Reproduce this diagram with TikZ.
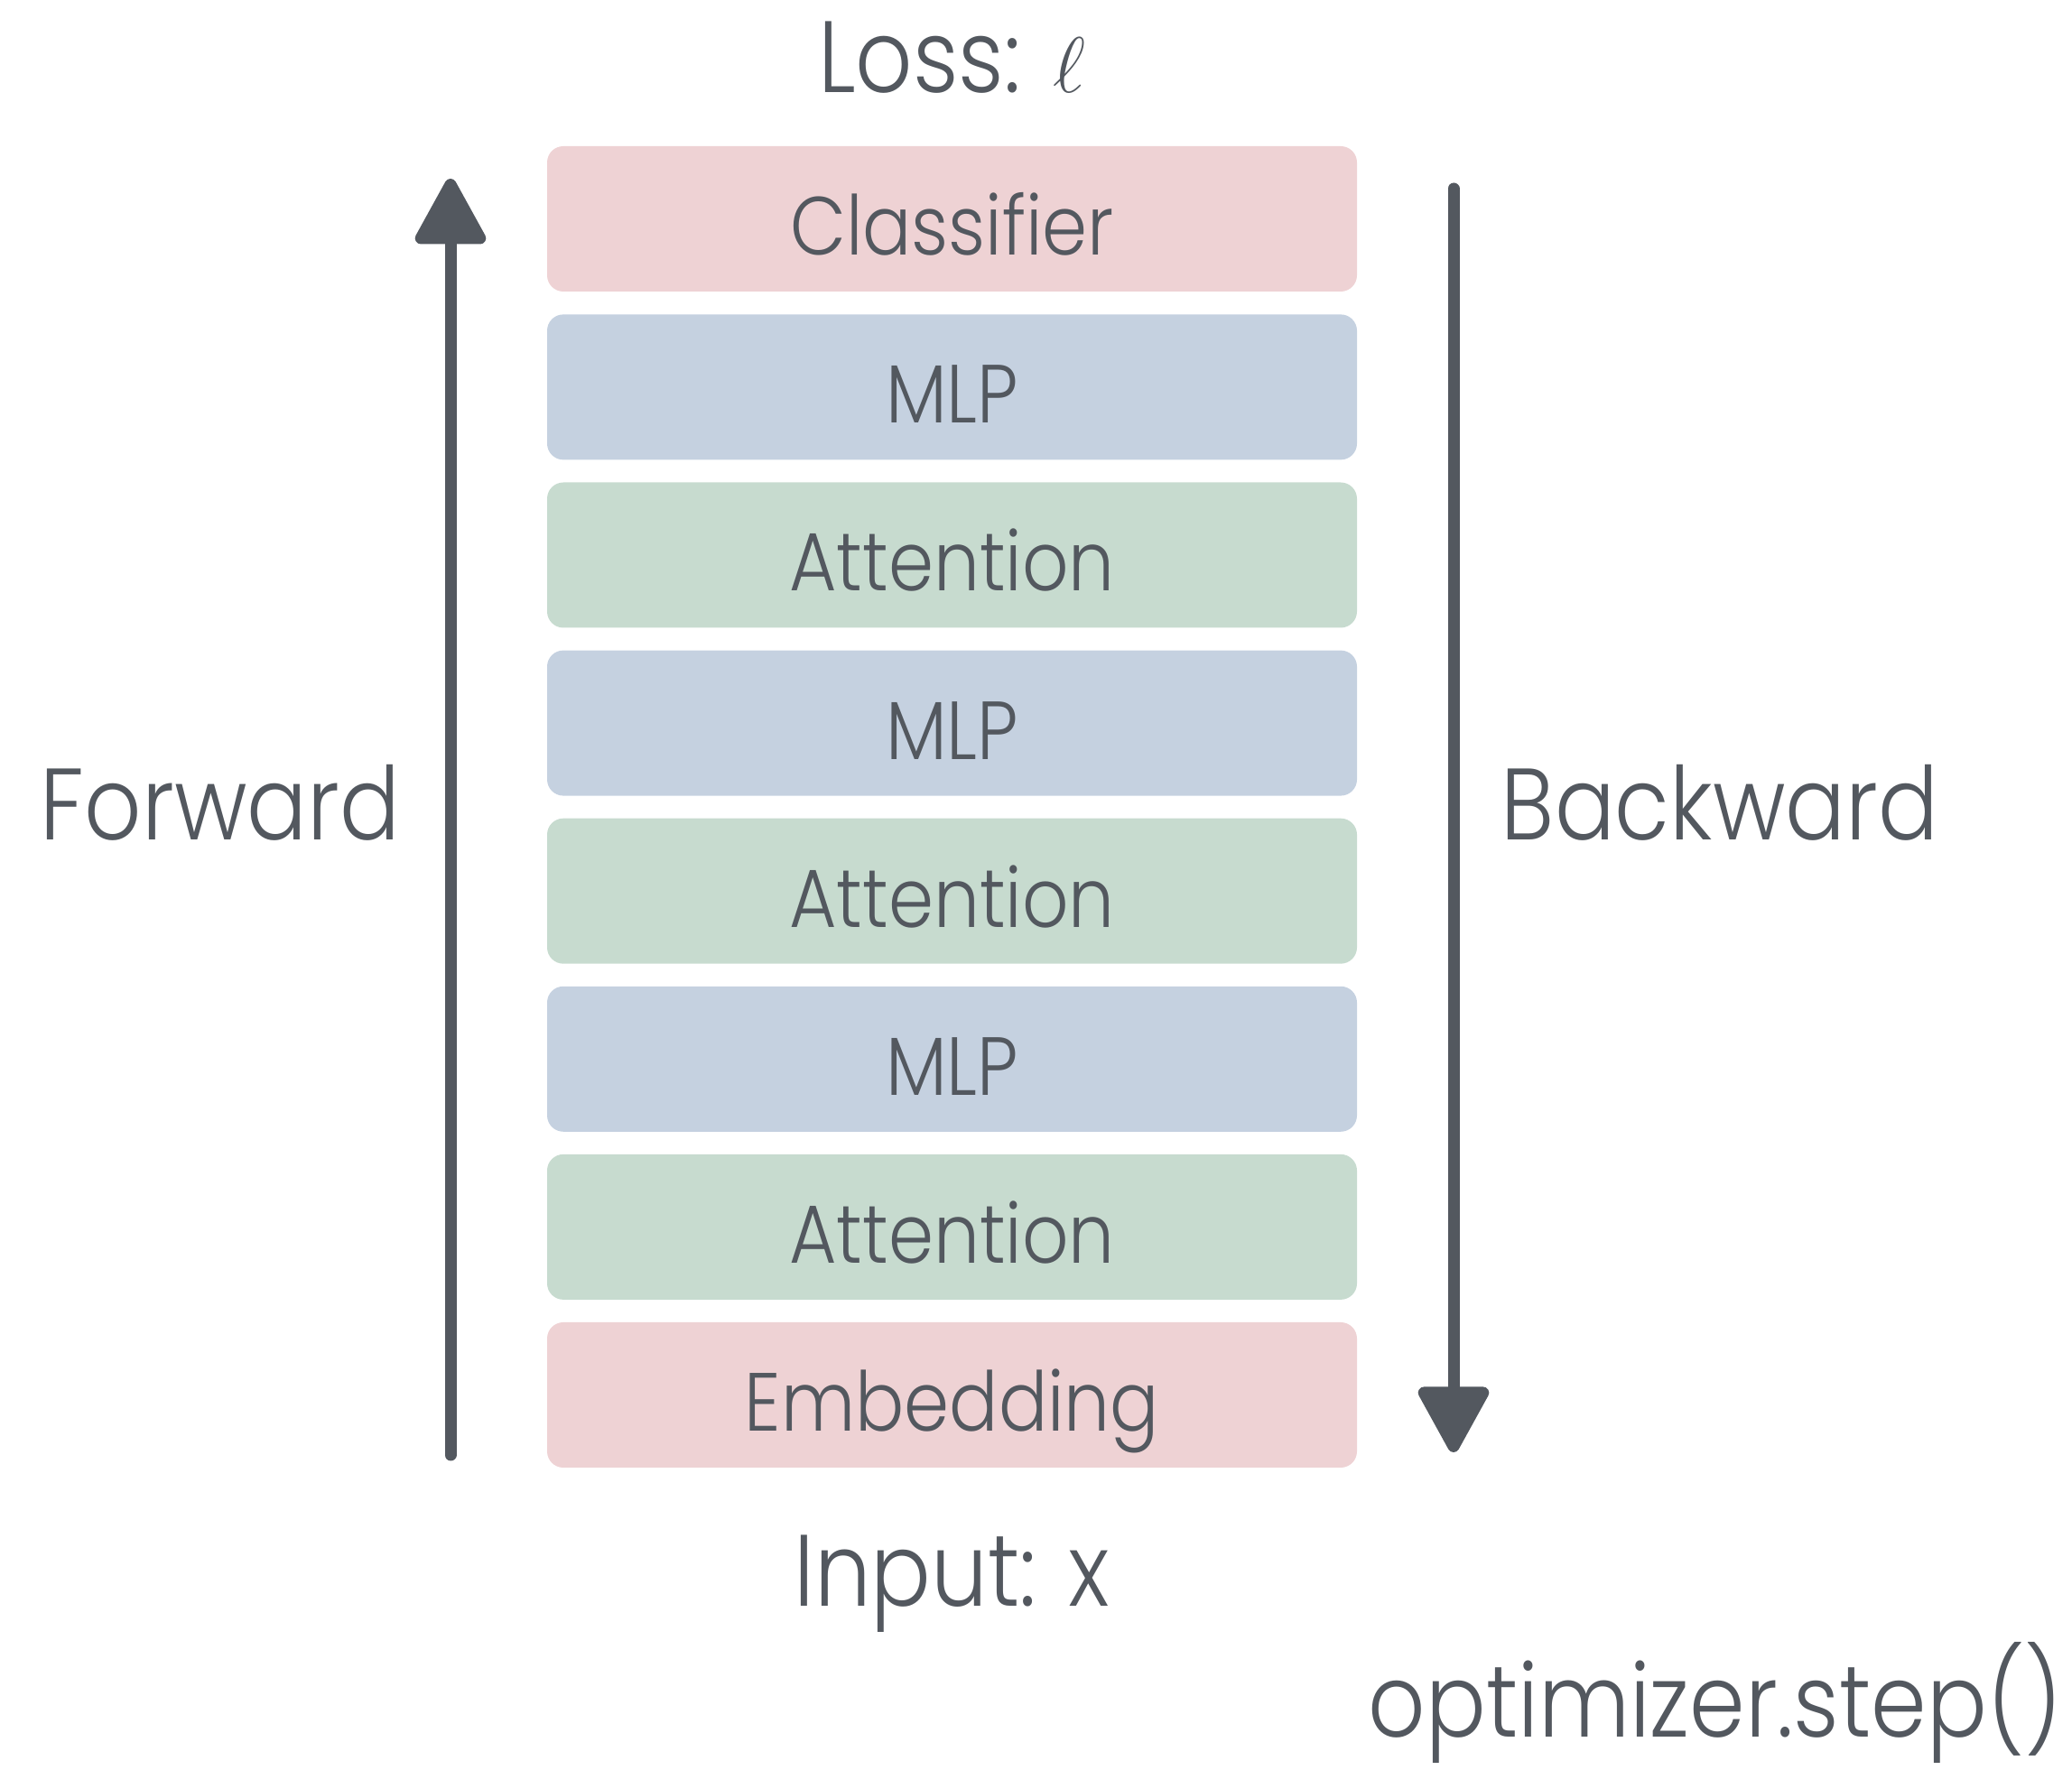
\documentclass[tikz,border=0pt]{standalone}
\usepackage{fontspec}
\setmainfont{Poppins}[UprightFont={* Light},FakeStretch=0.88]
\usetikzlibrary{arrows.meta}
\definecolor{ink}{HTML}{53585F}
\definecolor{pinkfill}{HTML}{EED2D4}
\definecolor{bluefill}{HTML}{C5D1E0}
\definecolor{greenfill}{HTML}{C7DBCF}
\begin{document}
\begin{tikzpicture}[every node/.style={font=\fontsize{26}{31}\selectfont,text=ink},
  layer/.style={rounded corners=0.18cm,minimum width=8.97cm,minimum height=1.61cm,inner sep=0pt,text height=0.8cm,text depth=0pt},
  big/.style={font=\fontsize{32}{38}\selectfont,anchor=base,inner sep=0pt},
  pass/.style={draw=ink,line width=0.13cm,line cap=round,-{Triangle[length=0.8cm,width=0.84cm,round]}}]
\useasboundingbox (0,0) rectangle (22.95,19.60);
% the layer stack, bottom to top
\node[layer,fill=pinkfill] (embed) at (10.545,4.145) {Embedding};
\node[layer,fill=greenfill] (attn1) at (10.545,6.006) {Attention};
\node[layer,fill=bluefill] (mlp1) at (10.545,7.867) {MLP};
\node[layer,fill=greenfill] (attn2) at (10.545,9.728) {Attention};
\node[layer,fill=bluefill] (mlp2) at (10.545,11.589) {MLP};
\node[layer,fill=greenfill] (attn3) at (10.545,13.450) {Attention};
\node[layer,fill=bluefill] (mlp3) at (10.545,15.311) {MLP};
\node[layer,fill=pinkfill] (classifier) at (10.545,17.175) {Classifier};
% labels
\node[big] (loss) at (10.545,18.57) {Loss: $\ell$};
\node[big] (input) at (10.545,1.80) {Input: x};
\node[big] (fwdlabel) at (2.44,10.29) {Forward};
\node[big] (bwdlabel) at (19.05,10.29) {Backward};
\node[big] (optstep) at (19.00,0.35) {optimizer.step()};
% passes
\coordinate (fwdtail) at (4.99,3.48);
\coordinate (fwdtip) at (4.99,17.62);
\coordinate (bwdtail) at (16.10,17.51);
\coordinate (bwdtip) at (16.10,3.51);
\draw[pass] (fwdtail) -- (fwdtip);
\draw[pass] (bwdtail) -- (bwdtip);
\end{tikzpicture}
\end{document}
